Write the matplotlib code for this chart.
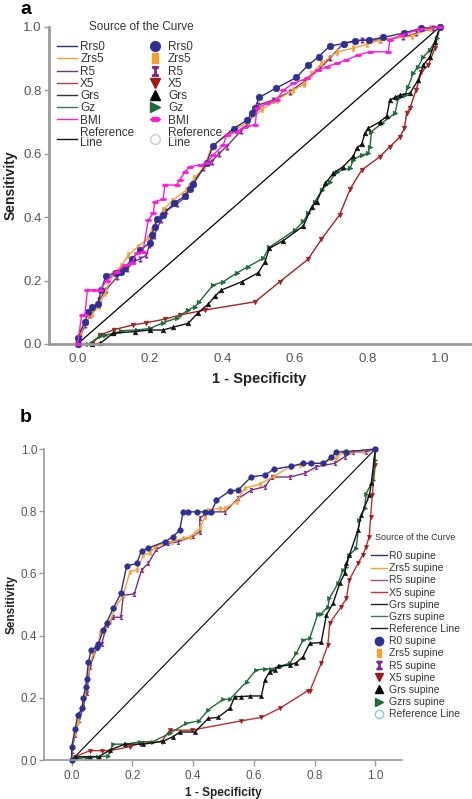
import numpy as np
import matplotlib
matplotlib.use("Agg")
import matplotlib.pyplot as plt
from matplotlib.path import Path
from matplotlib.lines import Line2D

plt.rcParams["font.family"] = ["Liberation Sans", "DejaVu Sans"]

# ---- panel a data (1 - specificity, sensitivity) ----
a_rrs0_x = [0.0, 0.0, 0.02, 0.03, 0.04, 0.055, 0.065, 0.078, 0.105, 0.12, 0.13, 0.149, 0.172, 0.2, 0.204, 0.213, 0.22, 0.236, 0.266, 0.296,
            0.31, 0.319, 0.356, 0.373, 0.431, 0.468, 0.48, 0.49, 0.501, 0.547, 0.604, 0.636, 0.665, 0.696, 0.735, 0.765, 0.805, 0.843, 0.9, 0.949, 1.0]
a_rrs0_y = [0.0, 0.02, 0.07, 0.1, 0.115, 0.125, 0.17, 0.214, 0.225, 0.228, 0.238, 0.267, 0.296, 0.319, 0.343, 0.37, 0.393, 0.406, 0.445, 0.465,
            0.49, 0.504, 0.569, 0.624, 0.679, 0.706, 0.727, 0.745, 0.777, 0.806, 0.84, 0.879, 0.905, 0.939, 0.947, 0.956, 0.958, 0.966, 0.98, 0.995, 1.0]

a_zrs5_x = [0, 0.01, 0.025, 0.04, 0.06, 0.075, 0.098, 0.12, 0.14, 0.167, 0.195, 0.205, 0.213, 0.236, 0.26, 0.3, 0.322, 0.35, 0.37, 0.42,
            0.47, 0.51, 0.55, 0.595, 0.625, 0.645, 0.673, 0.717, 0.761, 0.8, 0.834, 0.922, 0.972, 1.0]
a_zrs5_y = [0, 0.04, 0.07, 0.095, 0.12, 0.16, 0.223, 0.245, 0.28, 0.307, 0.333, 0.36, 0.38, 0.422, 0.45, 0.485, 0.522, 0.56, 0.622, 0.665,
            0.70, 0.74, 0.769, 0.80, 0.818, 0.85, 0.884, 0.921, 0.932, 0.945, 0.958, 0.97, 0.995, 1.0]

a_r5_x = [0, 0.007, 0.02, 0.035, 0.06, 0.078, 0.108, 0.135, 0.155, 0.172, 0.19, 0.198, 0.21, 0.23, 0.245, 0.273, 0.3, 0.31, 0.347, 0.37,
          0.39, 0.411, 0.45, 0.47, 0.499, 0.54, 0.586, 0.625, 0.669, 0.696, 0.733, 0.784, 0.834, 0.899, 0.935, 0.982, 1.0]
a_r5_y = [0, 0.02, 0.06, 0.09, 0.14, 0.17, 0.21, 0.235, 0.26, 0.268, 0.28, 0.312, 0.34, 0.39, 0.42, 0.441, 0.465, 0.497, 0.554, 0.575,
          0.6, 0.622, 0.671, 0.695, 0.753, 0.769, 0.795, 0.827, 0.869, 0.9, 0.947, 0.958, 0.958, 0.968, 0.979, 0.995, 1.0]

a_x5_x = [0, 0.04, 0.062, 0.1, 0.153, 0.19, 0.24, 0.282, 0.351, 0.49, 0.558, 0.636, 0.673, 0.723, 0.753, 0.784, 0.834, 0.862, 0.89, 0.902,
          0.908, 0.917, 0.934, 0.949, 0.968, 0.986, 1.0]
a_x5_y = [0, 0.0, 0.028, 0.045, 0.06, 0.067, 0.078, 0.091, 0.107, 0.133, 0.196, 0.267, 0.33, 0.407, 0.49, 0.548, 0.59, 0.622, 0.653, 0.68,
          0.727, 0.743, 0.8, 0.858, 0.879, 0.932, 1.0]

a_grs_x = [0, 0.04, 0.062, 0.098, 0.158, 0.2, 0.236, 0.264, 0.305, 0.333, 0.361, 0.379, 0.397, 0.453, 0.499, 0.517, 0.529, 0.568, 0.623, 0.646,
           0.66, 0.683, 0.706, 0.733, 0.761, 0.77, 0.784, 0.793, 0.802, 0.834, 0.853, 0.862, 0.876, 0.89, 0.917, 0.94, 0.954, 0.972, 0.986, 1.0]
a_grs_y = [0, 0, 0.002, 0.034, 0.039, 0.044, 0.044, 0.053, 0.065, 0.099, 0.126, 0.151, 0.17, 0.196, 0.225, 0.259, 0.301, 0.326, 0.372, 0.431,
           0.449, 0.506, 0.538, 0.559, 0.592, 0.617, 0.63, 0.664, 0.68, 0.70, 0.718, 0.769, 0.777, 0.785, 0.79, 0.832, 0.879, 0.905, 0.953, 1.0]

a_gz_x = [0, 0.03, 0.062, 0.075, 0.103, 0.121, 0.163, 0.2, 0.236, 0.273, 0.305, 0.324, 0.336, 0.374, 0.4, 0.441, 0.471, 0.512, 0.529, 0.6,
          0.623, 0.637, 0.655, 0.674, 0.696, 0.715, 0.752, 0.761, 0.784, 0.802, 0.807, 0.811, 0.839, 0.876, 0.885, 0.903, 0.912, 0.926, 0.94, 0.954,
          0.972, 0.991, 1.0]
a_gz_y = [0, 0, 0.025, 0.028, 0.034, 0.042, 0.044, 0.049, 0.067, 0.081, 0.107, 0.118, 0.133, 0.186, 0.195, 0.225, 0.244, 0.27, 0.305, 0.359,
          0.386, 0.412, 0.449, 0.485, 0.512, 0.543, 0.554, 0.58, 0.596, 0.601, 0.622, 0.669, 0.695, 0.727, 0.774, 0.785, 0.81, 0.853, 0.874, 0.905,
          0.926, 0.963, 1.0]

a_bmi_x = [0, 0.011, 0.02, 0.027, 0.045, 0.062, 0.08, 0.108, 0.131, 0.149, 0.163, 0.18, 0.195, 0.209, 0.213, 0.236, 0.241, 0.273, 0.282, 0.296,
           0.31, 0.338, 0.356, 0.374, 0.402, 0.411, 0.439, 0.462, 0.49, 0.495, 0.522, 0.549, 0.568, 0.595, 0.632, 0.664, 0.687, 0.715, 0.742, 0.774,
           0.807, 0.857, 0.862, 0.894, 0.945, 1.0]
a_bmi_y = [0, 0.09, 0.09, 0.17, 0.17, 0.17, 0.2, 0.228, 0.249, 0.254, 0.286, 0.29, 0.391, 0.412, 0.449, 0.456, 0.501, 0.501, 0.517, 0.543,
           0.559, 0.564, 0.569, 0.596, 0.627, 0.659, 0.669, 0.685, 0.69, 0.743, 0.758, 0.769, 0.8, 0.821, 0.837, 0.863, 0.874, 0.884, 0.895, 0.911,
           0.921, 0.921, 0.958, 0.974, 0.992, 1.0]

# ---- panel b data (supine) ----
b_r0_x = [0, 0.0, 0.011, 0.02, 0.035, 0.038, 0.046, 0.049, 0.055, 0.064, 0.082, 0.088, 0.104, 0.115, 0.137, 0.162, 0.181, 0.214, 0.23, 0.25,
          0.307, 0.334, 0.356, 0.367, 0.384, 0.414, 0.439, 0.46, 0.477, 0.521, 0.548, 0.592, 0.636, 0.666, 0.724, 0.762, 0.789, 0.828, 0.855, 0.872,
          0.905, 1.0]
b_r0_y = [0, 0.043, 0.099, 0.144, 0.166, 0.2, 0.236, 0.259, 0.314, 0.354, 0.364, 0.373, 0.418, 0.442, 0.488, 0.536, 0.624, 0.632, 0.673, 0.681,
          0.702, 0.718, 0.74, 0.798, 0.798, 0.798, 0.798, 0.798, 0.836, 0.865, 0.868, 0.911, 0.916, 0.935, 0.945, 0.954, 0.954, 0.954, 0.973, 0.991,
          0.991, 1.0]

b_zrs5_x = [0, 0.0, 0.011, 0.022, 0.03, 0.044, 0.055, 0.071, 0.088, 0.093, 0.11, 0.126, 0.143, 0.17, 0.192, 0.214, 0.236, 0.258, 0.274, 0.329,
            0.367, 0.389, 0.406, 0.422, 0.439, 0.45, 0.488, 0.504, 0.543, 0.57, 0.619, 0.668, 0.718, 0.751, 0.783, 0.822, 0.871, 0.894, 0.921, 0.96,
            1.0]
b_zrs5_y = [0, 0.04, 0.086, 0.123, 0.166, 0.204, 0.289, 0.343, 0.37, 0.407, 0.423, 0.445, 0.488, 0.53, 0.606, 0.611, 0.659, 0.665, 0.686, 0.702,
            0.713, 0.716, 0.729, 0.745, 0.782, 0.804, 0.809, 0.809, 0.831, 0.874, 0.887, 0.913, 0.943, 0.949, 0.954, 0.954, 0.97, 0.991, 0.991, 0.995,
            1.0]

b_r5_x = [0, 0.0, 0.011, 0.025, 0.038, 0.049, 0.06, 0.082, 0.099, 0.115, 0.137, 0.162, 0.17, 0.206, 0.23, 0.252, 0.279, 0.318, 0.351, 0.4,
          0.422, 0.422, 0.45, 0.504, 0.548, 0.592, 0.636, 0.66, 0.718, 0.768, 0.806, 0.866, 0.899, 0.927, 0.97, 1.0]
b_r5_y = [0, 0.03, 0.08, 0.13, 0.171, 0.214, 0.3, 0.359, 0.373, 0.434, 0.459, 0.459, 0.53, 0.534, 0.611, 0.632, 0.677, 0.697, 0.702, 0.72,
          0.734, 0.777, 0.798, 0.798, 0.841, 0.868, 0.879, 0.91, 0.91, 0.922, 0.943, 0.954, 0.975, 0.991, 0.991, 1.0]

b_x5_x = [0, 0.01, 0.06, 0.099, 0.126, 0.192, 0.225, 0.296, 0.323, 0.395, 0.559, 0.625, 0.685, 0.778, 0.785, 0.822, 0.844, 0.85, 0.888, 0.905,
          0.915, 0.943, 0.959, 0.97, 0.98, 0.985, 0.99, 1.0, 1.0]
b_x5_y = [0, 0.01, 0.03, 0.03, 0.03, 0.043, 0.053, 0.059, 0.096, 0.096, 0.126, 0.137, 0.166, 0.223, 0.223, 0.311, 0.37, 0.44, 0.493, 0.52,
          0.58, 0.632, 0.66, 0.686, 0.718, 0.782, 0.852, 0.95, 1.0]

b_grs_x = [0, 0.01, 0.06, 0.09, 0.126, 0.175, 0.236, 0.3, 0.334, 0.356, 0.406, 0.45, 0.482, 0.521, 0.537, 0.559, 0.587, 0.625, 0.636, 0.652,
           0.669, 0.68, 0.718, 0.74, 0.762, 0.784, 0.822, 0.839, 0.861, 0.883, 0.899, 0.905, 0.915, 0.943, 0.954, 0.981, 0.987, 1.0]
b_grs_y = [0, 0.01, 0.011, 0.011, 0.032, 0.051, 0.051, 0.06, 0.075, 0.09, 0.09, 0.134, 0.137, 0.166, 0.204, 0.204, 0.206, 0.206, 0.257, 0.284,
           0.289, 0.302, 0.305, 0.313, 0.332, 0.375, 0.378, 0.466, 0.504, 0.568, 0.6, 0.632, 0.659, 0.74, 0.788, 0.852, 0.89, 1.0]

b_gzrs_x = [0, 0.02, 0.05, 0.088, 0.12, 0.137, 0.18, 0.225, 0.268, 0.323, 0.378, 0.42, 0.449, 0.499, 0.521, 0.576, 0.606, 0.636, 0.658, 0.69,
            0.718, 0.74, 0.762, 0.784, 0.811, 0.822, 0.844, 0.849, 0.877, 0.894, 0.905, 0.915, 0.937, 0.948, 0.965, 0.97, 0.993, 0.998, 1.0]
b_gzrs_y = [0, 0.005, 0.008, 0.01, 0.013, 0.051, 0.051, 0.059, 0.059, 0.086, 0.118, 0.126, 0.161, 0.195, 0.195, 0.252, 0.289, 0.293, 0.293, 0.303,
            0.311, 0.343, 0.386, 0.391, 0.47, 0.47, 0.493, 0.52, 0.568, 0.611, 0.622, 0.659, 0.681, 0.772, 0.809, 0.857, 0.9, 0.965, 1.0]

ticks = [0.0, 0.2, 0.4, 0.6, 0.8, 1.0]

# marker shapes used by SPSS
hourglass = Path([(-0.6, 1), (0.6, 1), (0.6, 0.75), (0.15, 0.45), (0.15, -0.45), (0.6, -0.75), (0.6, -1),
                  (-0.6, -1), (-0.6, -0.75), (-0.15, -0.45), (-0.15, 0.45), (-0.6, 0.75), (-0.6, 1)], closed=True)
tall_rect = Path([(-0.55, -1), (0.55, -1), (0.55, 1), (-0.55, 1), (-0.55, -1)], closed=True)
flat_hex = Path([(-1, 0), (-0.55, 0.4), (0.55, 0.4), (1, 0), (0.55, -0.4), (-0.55, -0.4), (-1, 0)], closed=True)

C_NAVY = "#2b2f7e"
C_ORANGE = "#f7a030"
C_PURPLE = "#7b2d86"
C_RED = "#a32222"
C_BLACK = "#111111"
C_GREEN = "#1e6a3a"
C_PINK = "#ff1ad9"


def curve(ax, x, y, color, marker, ms, lw=1.0, mcolor=None, z=2):
    ax.plot(x, y, color=color, lw=lw, marker=marker, ms=ms, mfc=mcolor or color,
            mec=mcolor or color, mew=0.4, clip_on=False, zorder=z)


def style_axes(ax, xlim, fs_tick, spine_w, xtick_len, xpad):
    ax.set_xlim(*xlim)
    ax.set_ylim(0, 1)
    ax.set_xticks(ticks)
    ax.set_yticks(ticks)
    ax.set_xticklabels([f"{t:.1f}" for t in ticks])
    ax.set_yticklabels([f"{t:.1f}" for t in ticks])
    for s in ["top", "right"]:
        ax.spines[s].set_visible(False)
    for s in ["left", "bottom"]:
        ax.spines[s].set_color("#9a9a9a")
        ax.spines[s].set_linewidth(spine_w)
    ax.tick_params(axis="both", colors="#9a9a9a", labelcolor="#555555", labelsize=fs_tick, width=1, pad=1.5)
    ax.tick_params(axis="y", length=3.6)
    ax.tick_params(axis="x", length=xtick_len, pad=xpad)


fig = plt.figure(figsize=(4.72, 7.99), dpi=100)

# ---------------- panel a ----------------
ax_a = fig.add_axes([0.1038, 0.5695, 0.892, 0.3971])
ax_a.plot([0, 1], [0, 1], color="black", lw=0.9, zorder=1)
curve(ax_a, a_x5_x, a_x5_y, C_RED, "v", 3.4)
curve(ax_a, a_gz_x, a_gz_y, C_GREEN, ">", 3.4)
curve(ax_a, a_grs_x, a_grs_y, C_BLACK, "^", 3.4)
curve(ax_a, a_bmi_x, a_bmi_y, C_PINK, flat_hex, 4.8, z=3)
curve(ax_a, a_r5_x, a_r5_y, C_PURPLE, hourglass, 3.8)
curve(ax_a, a_zrs5_x, a_zrs5_y, C_ORANGE, tall_rect, 3.8)
curve(ax_a, a_rrs0_x, a_rrs0_y, C_NAVY, "o", 4.8, mcolor="#2e3192")
style_axes(ax_a, (-0.079, 1.083), 9.5, 2.0, 0, 6.5)
ax_a.set_xlabel("1 - Specificity", fontsize=10.5, fontweight="bold", color="#222222", labelpad=5)
ax_a.set_ylabel("Sensitivity", fontsize=10, fontweight="bold", color="#222222", labelpad=4)

names_a = ["Rrs0", "Zrs5", "R5", "X5", "Grs", "Gz", "BMI", "Reference\nLine"]
line_cols_a = [C_NAVY, C_ORANGE, C_PURPLE, "#b04040", "#333333", "#3d7a55", C_PINK, C_BLACK]
mk_a = [("o", "#2e3192"), (tall_rect, C_ORANGE), (hourglass, C_PURPLE), ("v", "#a01818"),
        ("^", "black"), (">", C_GREEN), (flat_hex, C_PINK)]
handles_a = [Line2D([], [], color=c, lw=1.0) for c in line_cols_a]
handles_a += [Line2D([], [], ls="none", marker=m, ms=7, mfc=c, mec=c) for m, c in mk_a]
handles_a += [Line2D([], [], ls="none", marker="o", ms=7, mfc="white", mec="#cccccc")]
leg_a = ax_a.legend(handles_a, names_a + names_a, ncol=2, loc="upper left",
                    bbox_to_anchor=(56 / 472, 1 - 40 / 799), bbox_transform=fig.transFigure,
                    frameon=False, fontsize=8.5,
                    handlelength=1.65, handletextpad=0.3, labelspacing=0.02, columnspacing=0.9,
                    borderpad=0.1, borderaxespad=0)
for t in leg_a.get_texts():
    t.set_color("#333333")
    t.set_linespacing(0.85)
fig.text(141 / 472, 1 - 27 / 799, "Source of the Curve", fontsize=8.5, color="#333333",
         ha="center", va="center")

# ---------------- panel b ----------------
ax_b = fig.add_axes([0.094, 0.0488, 0.757, 0.3892])
ax_b.plot([0, 1], [0, 1], color="black", lw=0.8, zorder=1)
curve(ax_b, b_x5_x, b_x5_y, "#c03030", "v", 3.0, mcolor="#a01818")
curve(ax_b, b_gzrs_x, b_gzrs_y, C_GREEN, ">", 3.0)
curve(ax_b, b_grs_x, b_grs_y, C_BLACK, "^", 3.0)
curve(ax_b, b_r5_x, b_r5_y, C_PURPLE, hourglass, 3.3)
curve(ax_b, b_zrs5_x, b_zrs5_y, C_ORANGE, tall_rect, 3.3)
curve(ax_b, b_r0_x, b_r0_y, C_NAVY, "o", 4.0, mcolor="#2e3192")
style_axes(ax_b, (-0.09, 1.087), 8.5, 1.2, 4, 3)
ax_b.set_xlabel("1 - Specificity", fontsize=8.5, fontweight="bold", color="#222222", labelpad=4)
ax_b.set_ylabel("Sensitivity", fontsize=8.5, fontweight="bold", color="#222222", labelpad=2)

names_b = ["R0 supine", "Zrs5 supine", "R5 supine", "X5 supine", "Grs supine", "Gzrs supine", "Reference Line"]
line_cols_b = [C_NAVY, C_ORANGE, "#a04aa8", "#d03030", "#222222", "#3d7a55", "#222222"]
mk_b = [("o", "#2e3192"), (tall_rect, C_ORANGE), (hourglass, C_PURPLE), ("v", "#a01818"),
        ("^", "black"), (">", C_GREEN)]
handles_b = [Line2D([], [], color=c, lw=1.0) for c in line_cols_b]
handles_b += [Line2D([], [], ls="none", marker=m, ms=6, mfc=c, mec=c) for m, c in mk_b]
handles_b += [Line2D([], [], ls="none", marker="o", ms=6, mfc="white", mec="#7fd0d0")]
leg_b = ax_b.legend(handles_b, names_b + names_b, ncol=1, loc="upper left",
                    bbox_to_anchor=(371 / 472, 1 - 551 / 799), bbox_transform=fig.transFigure,
                    frameon=False, fontsize=7.5,
                    handlelength=1.55, handletextpad=0.2, labelspacing=0.21, borderpad=0.0,
                    borderaxespad=0)
for t in leg_b.get_texts():
    t.set_color("#333333")
fig.text(415 / 472, 1 - 538 / 799, "Source of the Curve", fontsize=6.5, color="#333333",
         ha="center", va="center")

fig.text(20 / 472, 1 - 1 / 799, "a", fontsize=14, fontweight="bold", va="top")
fig.text(20 / 472, 1 - 409 / 799, "b", fontsize=14, fontweight="bold", va="top")

fig.savefig("out.png", dpi=100)
